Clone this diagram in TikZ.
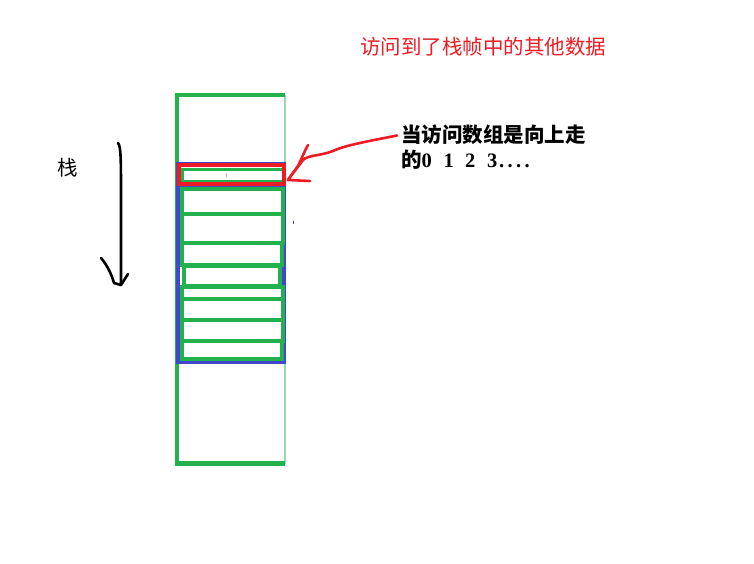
\documentclass[tikz,border=0pt]{standalone}
\usepackage{fontspec}
\newfontfamily\cjk{Noto Sans CJK SC}
\newfontfamily\ser{Liberation Serif}
\definecolor{pgreen}{RGB}{34,177,76}
\definecolor{lgreen}{RGB}{150,220,170}
\definecolor{pred}{RGB}{237,28,36}
\definecolor{pblue}{RGB}{63,72,204}
\tikzset{
  gline/.style={draw=pgreen, line width=4pt},
  rowbox/.style={draw=pgreen, line width=4pt},
  hand/.style={line width=2.6pt, line cap=round, line join=round},
  lbl/.style={inner sep=0pt, anchor=west, font=\cjk\fontsize{20.5}{24}\selectfont},
}
\newcommand{\dg}[2]{\makebox[#1pt][l]{{\ser\bfseries #2}}}
\begin{document}
\begin{tikzpicture}[x=1pt,y=-1pt]
\useasboundingbox[fill=white] (0,0) rectangle (754,563);
% outer stack frame
\coordinate (tl) at (177,95);
\coordinate (tr) at (284.5,95);
\coordinate (bl) at (177,463.5);
\coordinate (br) at (284.5,463.5);
\draw[draw=lgreen, line width=2pt] (tr) -- (br);
\draw[gline] ([xshift=-2pt]tl) -- (tr);
\draw[gline, line width=4.5pt] ([xshift=-2pt]bl) -- (br);
\draw[gline, line width=4.5pt] ([yshift=-2pt]tl) -- ([yshift=2pt]bl);
% blue array region
\draw[draw=pblue, line width=4pt] (178,164) rectangle (284,361.5);
\draw[draw=pblue, line width=3.5pt] (178,186.5) -- (284,186.5);
% rows
\draw[rowbox] (181.5,189) rectangle (282.5,213.5);
\draw[rowbox] (181.5,213.5) rectangle (282.5,242.5);
\draw[rowbox] (181.5,242.5) rectangle (282,265);
\draw[rowbox] (183.5,266) rectangle (280,286);
\draw[rowbox] (181.5,286.5) rectangle (282.5,298.5);
\draw[rowbox] (181.5,298.5) rectangle (282.5,319.5);
\draw[rowbox] (181.5,319.5) rectangle (282.5,341);
\draw[rowbox] (181.5,341) rectangle (282,359);
% red box with inner green slot
\draw[draw=pgreen, line width=3pt] (182,169) rectangle (283,181);
\draw[draw=pred, line width=4pt] (178.5,164.5) rectangle (284,183.5);
\draw[draw=pred!40, line width=0.8pt] (226,173) -- (226,177);
\draw[draw=pblue, line width=1pt] (293,220.5) -- (293,224);
% stack label and arrow
\node[lbl, anchor=center] (stk) at (68,168) {栈};
\coordinate (atop) at (118,143);
\coordinate (abot) at (121,285);
\draw[hand] (atop) .. controls (121,146) and (121,160) .. (121,200) -- (abot);
\draw[hand] (101,258) .. controls (108,266) and (112,276) .. (114,283) -- (abot) -- (128,274);
% texts
\node[lbl, text=pred] (title) at (360,47) {访问到了栈帧中的其他数据};
\node[lbl, font=\cjk\bfseries\fontsize{20.5}{24}\selectfont] (note1) at (401,134.5) {当访问数组是向上走};
\node[lbl, font=\cjk\bfseries\fontsize{20.5}{24}\selectfont] (note2) at (401,160) {的\dg{22}{0}\dg{21.5}{1}\dg{22}{2}\dg{12}{3}\dg{8.5}{.}\dg{8.5}{.}\dg{8.5}{.}\dg{8.5}{.}};
% red hand-drawn arrow
\coordinate (tail) at (397,135.5);
\coordinate (tip) at (288,180);
\draw[hand, draw=pred] (tail) .. controls (375,140) and (345,145) .. (333,151)
  .. controls (320,156) and (308,155) .. (303,160)
  .. controls (297,168) and (292,174) .. (tip);
\draw[hand, draw=pred] (308,145) .. controls (305,150) and (302,158) .. (298,166) -- (tip) -- (310,181);
\end{tikzpicture}
\end{document}
